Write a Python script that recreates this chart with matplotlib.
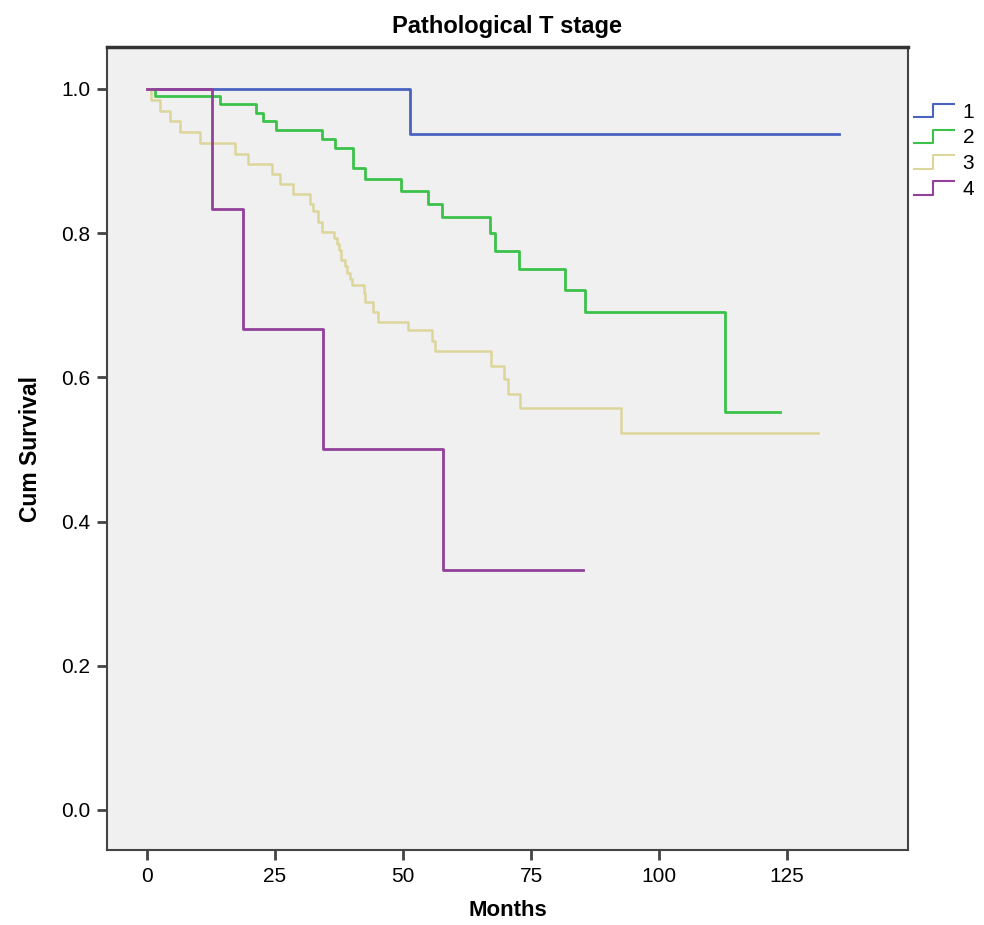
import numpy as np
import matplotlib
matplotlib.use("Agg")
import matplotlib.pyplot as plt
from matplotlib.lines import Line2D
from matplotlib.legend_handler import HandlerBase

plt.rcParams['font.family'] = ['Liberation Sans', 'DejaVu Sans']

# event times (months) and survival after each drop
t1 = [0, 51.4]
s1 = [1.0, 0.9375]
end1 = 135.2

t2 = [0, 1.6, 14.3, 21.3, 22.7, 25.3, 34.1, 36.8, 40.3, 42.5, 49.7, 54.9,
      57.7, 67.0, 68.0, 72.7, 81.6, 85.5, 112.9]
s2 = [1.0, 0.990, 0.979, 0.967, 0.955, 0.943, 0.930, 0.918, 0.890, 0.875,
      0.858, 0.840, 0.822, 0.800, 0.775, 0.750, 0.721, 0.690, 0.552]
end2 = 123.6

t3 = [0, 0.8, 2.5, 4.5, 6.5, 10.3, 17.2, 19.7, 24.4, 26.0, 28.6, 31.8, 32.5,
      33.5, 34.2, 36.6, 37.2, 37.6, 37.9, 38.7, 39.0, 39.6, 40.0, 42.3, 42.6,
      44.2, 45.2, 51.0, 55.6, 56.3, 67.1, 69.7, 70.6, 72.9, 92.5]
s3 = [1.0, 0.985, 0.970, 0.955, 0.940, 0.925, 0.910, 0.896, 0.882, 0.868,
      0.854, 0.840, 0.830, 0.816, 0.802, 0.793, 0.785, 0.777, 0.763, 0.754,
      0.745, 0.737, 0.728, 0.717, 0.705, 0.691, 0.677, 0.666, 0.651, 0.636,
      0.616, 0.597, 0.577, 0.557, 0.523]
end3 = 131.1

t4 = [0, 12.7, 18.8, 34.4, 57.8]
s4 = [1.0, 0.833, 0.667, 0.5, 0.333]
end4 = 85.2

groups = ['1', '2', '3', '4']
colors = ['#4a62c0', '#3cc24a', '#dcd69a', '#93409a']


class StepHandler(HandlerBase):
    # SPSS style legend glyph: low line, step up, high line
    def create_artists(self, legend, orig_handle, xdescent, ydescent,
                       width, height, fontsize, trans):
        xs = [0, width * 0.47, width * 0.47, width]
        ys = [0, 0, height, height]
        xs = [x - xdescent for x in xs]
        ys = [y - ydescent for y in ys]
        ln = Line2D(xs, ys, color=orig_handle.get_color(), lw=1.5)
        ln.set_transform(trans)
        return [ln]


fig = plt.figure(figsize=(9.84, 9.25), dpi=100)
ax = fig.add_axes([0.1087, 0.0811, 0.814, 0.868])
ax.set_facecolor('#f0f0f0')

data = [(t1, s1, end1), (t2, s2, end2), (t3, s3, end3), (t4, s4, end4)]
handles = []
for (t, s, e), c, g in zip(data, colors, groups):
    x = list(t) + [e]
    y = list(s) + [s[-1]]
    h, = ax.step(x, y, where='post', color=c, lw=2 if c != colors[2] else 1.8, label=g)
    handles.append(h)

ax.set_xlim(-7.8, 148.6)
ax.set_ylim(-0.0555, 1.058)
ax.set_xticks([0, 25, 50, 75, 100, 125])
ax.set_yticks([0.0, 0.2, 0.4, 0.6, 0.8, 1.0])
ax.set_yticklabels(['0.0', '0.2', '0.4', '0.6', '0.8', '1.0'])
ax.tick_params(direction='out', length=7, width=2, color='#444444',
               labelsize=15, pad=5)

for side in ['left', 'bottom', 'right']:
    ax.spines[side].set_color('#444444')
    ax.spines[side].set_linewidth(1.5)
ax.spines['top'].set_color('#333333')
ax.spines['top'].set_linewidth(2.5)

ax.set_title('Pathological T stage', fontsize=17, fontweight='bold', pad=10)
ax.set_xlabel('Months', fontsize=16, fontweight='bold', labelpad=10)
ax.set_ylabel('Cum Survival', fontsize=16.5, fontweight='bold', labelpad=14)

leg = ax.legend(handles=handles, labels=groups,
                handler_map={h: StepHandler() for h in handles},
                loc='upper left', bbox_to_anchor=(0.989, 0.949), frameon=False,
                fontsize=15, handlelength=1.95, handleheight=0.6,
                handletextpad=0.4, labelspacing=0.33, borderaxespad=0.3)

fig.savefig('out.png', dpi=100)
